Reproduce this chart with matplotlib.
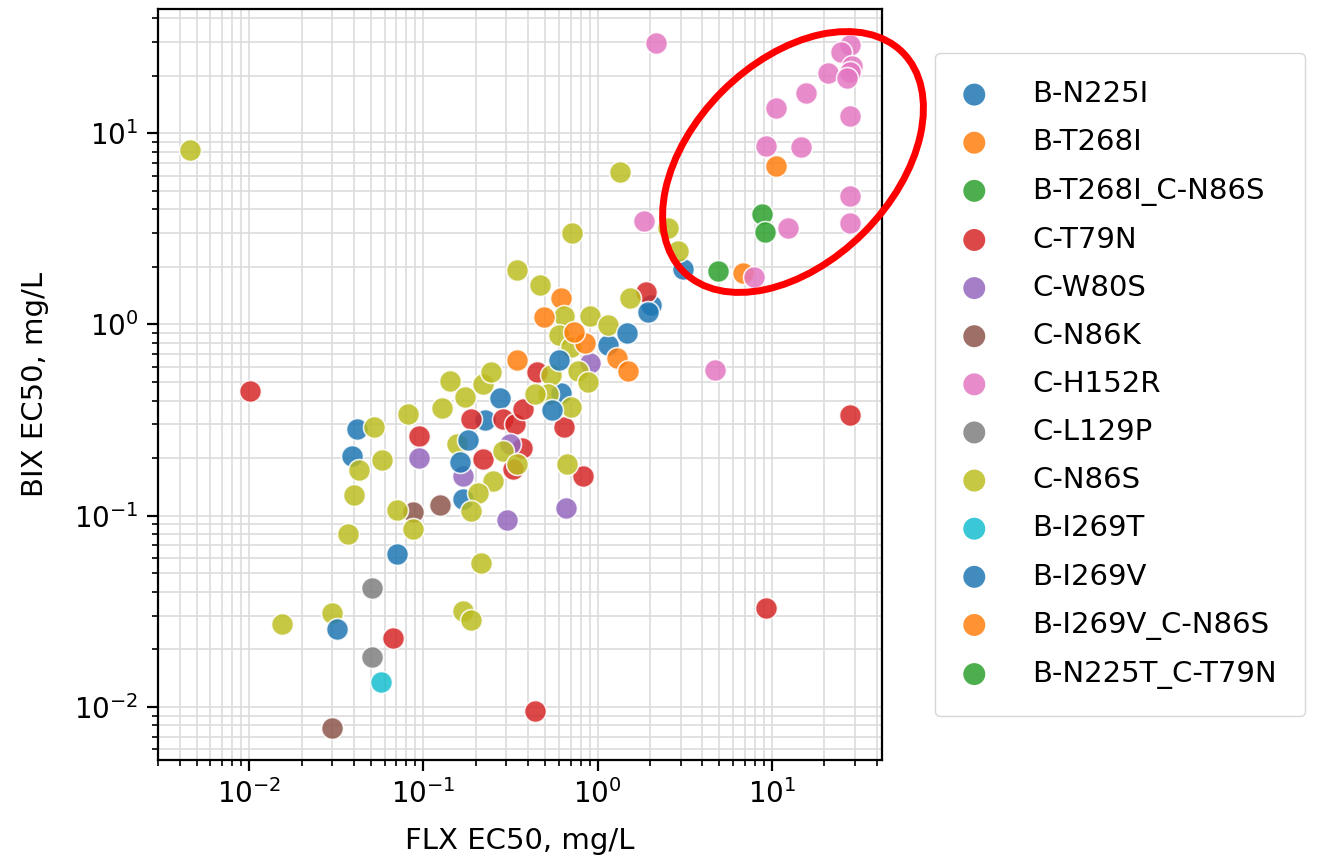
import matplotlib
matplotlib.use("Agg")
import matplotlib.pyplot as plt
from matplotlib.patches import Ellipse
from matplotlib.ticker import LogLocator, NullFormatter

# ---------------- data ----------------
categories = ["B-N225I", "B-T268I", "B-T268I_C-N86S", "C-T79N", "C-W80S", "C-N86K",
              "C-H152R", "C-L129P", "C-N86S", "B-I269T", "B-I269V", "B-I269V_C-N86S",
              "B-N225T_C-T79N"]

flx_B_N225I = [0.0418, 0.039, 0.168, 0.227, 0.277, 0.613, 1.14, 2.02, 3.08]
bix_B_N225I = [0.285, 0.204, 0.122, 0.315, 0.41, 0.44, 0.776, 1.26, 1.96]

flx_B_T268I = [0.347, 0.62, 1.30, 6.8, 10.5]
bix_B_T268I = [0.65, 1.38, 0.664, 1.85, 6.7]

flx_B_T268I_C_N86S = [8.8, 9.1]
bix_B_T268I_C_N86S = [3.77, 3.03]

flx_C_T79N = [0.0101, 0.0673, 0.095, 0.187, 0.221, 0.288, 0.338, 0.375, 0.37, 0.325,
              0.452, 0.64, 0.83, 0.44, 9.3, 28.0, 1.89]
bix_C_T79N = [0.45, 0.023, 0.262, 0.32, 0.199, 0.32, 0.30, 0.36, 0.227, 0.176,
              0.561, 0.29, 0.162, 0.0095, 0.033, 0.338, 1.47]

flx_C_W80S = [0.095, 0.17, 0.316, 0.304, 0.655, 0.91]
bix_C_W80S = [0.201, 0.162, 0.237, 0.095, 0.110, 0.625]

flx_C_N86K = [0.030, 0.125, 0.0877]
bix_C_N86K = [0.0078, 0.114, 0.104]

flx_C_H152R = [2.15, 1.84, 4.7, 7.9, 9.2, 14.7, 10.6, 15.7, 21.0, 28.0, 25.0, 29.0,
               28.0, 27.0, 28.0, 28.0, 28.0, 12.4]
bix_C_H152R = [29.6, 3.46, 0.58, 1.76, 8.55, 8.5, 13.5, 16.2, 20.6, 29.0, 26.5, 22.5,
               20.8, 19.5, 12.3, 4.68, 3.38, 3.18]

flx_C_L129P = [0.051, 0.051]
bix_C_L129P = [0.042, 0.0183]

flx_C_N86S = [0.00458, 1.34, 0.71, 2.52, 2.88, 0.0155, 0.030, 0.037, 0.0877, 0.213,
              0.170, 0.187, 0.0523, 0.0429, 0.058, 0.040, 0.082, 0.1286, 0.143, 0.071,
              0.347, 0.47, 0.64, 0.91, 1.14, 0.60, 0.70, 1.53, 0.537, 0.77,
              0.876, 0.516, 0.70, 0.67, 0.288, 0.347, 0.252, 0.207, 0.187, 0.157,
              0.174, 0.221, 0.243, 0.44]
bix_C_N86S = [8.15, 6.3, 3.0, 3.18, 2.41, 0.0272, 0.031, 0.080, 0.0855, 0.0567,
              0.0318, 0.0285, 0.29, 0.174, 0.196, 0.129, 0.342, 0.367, 0.509, 0.107,
              1.92, 1.6, 1.11, 1.11, 0.99, 0.876, 0.758, 1.38, 0.541, 0.574,
              0.497, 0.435, 0.368, 0.187, 0.219, 0.187, 0.152, 0.132, 0.106, 0.238,
              0.416, 0.491, 0.561, 0.435]

flx_B_I269T = [0.0574]
bix_B_I269T = [0.0135]

flx_B_I269V = [0.032, 0.071, 0.163, 0.18, 0.55, 0.60, 1.47, 1.94]
bix_B_I269V = [0.0256, 0.063, 0.19, 0.25, 0.355, 0.65, 0.897, 1.16]

flx_B_I269V_C_N86S = [0.49, 0.85, 0.728, 1.49]
bix_B_I269V_C_N86S = [1.09, 0.80, 0.91, 0.574]

flx_B_N225T_C_T79N = [4.9]
bix_B_N225T_C_T79N = [1.9]

series = [
    (flx_B_N225I, bix_B_N225I), (flx_B_T268I, bix_B_T268I),
    (flx_B_T268I_C_N86S, bix_B_T268I_C_N86S), (flx_C_T79N, bix_C_T79N),
    (flx_C_W80S, bix_C_W80S), (flx_C_N86K, bix_C_N86K), (flx_C_H152R, bix_C_H152R),
    (flx_C_L129P, bix_C_L129P), (flx_C_N86S, bix_C_N86S), (flx_B_I269T, bix_B_I269T),
    (flx_B_I269V, bix_B_I269V), (flx_B_I269V_C_N86S, bix_B_I269V_C_N86S),
    (flx_B_N225T_C_T79N, bix_B_N225T_C_T79N),
]

tab10 = ["#1f77b4", "#ff7f0e", "#2ca02c", "#d62728", "#9467bd", "#8c564b",
         "#e377c2", "#7f7f7f", "#bcbd22", "#17becf"]

# ---------------- figure ----------------
plt.rcParams["font.family"] = ["DejaVu Sans"]
fig = plt.figure(figsize=(13.23, 8.64), dpi=100)
ax = fig.add_axes([0.1194, 0.1204, 0.5473, 0.8692])

for i, (name, (xs, ys)) in enumerate(zip(categories, series)):
    ax.scatter(xs, ys, s=250, color=tab10[i % 10], edgecolor="white",
               linewidth=1.2, alpha=0.85, label=name, zorder=3)

ax.set_xscale("log")
ax.set_yscale("log")
ax.set_xlim(0.0030, 42.9)
ax.set_ylim(0.00528, 44.6)

ax.xaxis.set_minor_locator(LogLocator(base=10, subs=range(2, 10), numticks=20))
ax.yaxis.set_minor_locator(LogLocator(base=10, subs=range(2, 10), numticks=20))
ax.xaxis.set_minor_formatter(NullFormatter())
ax.yaxis.set_minor_formatter(NullFormatter())

ax.grid(True, which="both", color="#dcdcdc", linewidth=1.2, zorder=0)
ax.set_axisbelow(True)

for sp in ax.spines.values():
    sp.set_linewidth(1.6)
    sp.set_color("black")

ax.tick_params(which="major", length=8, width=1.6, labelsize=20, pad=6, direction="out")
ax.tick_params(which="minor", length=4.5, width=1.2, direction="out")

ax.set_xlabel("FLX EC50, mg/L", fontsize=21, labelpad=13)
ax.set_ylabel("BIX EC50, mg/L", fontsize=21, labelpad=18)

leg = ax.legend(loc="upper left", bbox_to_anchor=(1.073, 0.942), borderaxespad=0,
                fontsize=21, labelspacing=0.69, handlelength=0.8, handletextpad=1.6,
                borderpad=0.95, frameon=True, edgecolor="#cccccc", fancybox=True,
                markerscale=1.0)
for h in leg.legend_handles:
    h.set_edgecolor("none")
    h.set_alpha(0.85)

# red highlight ellipse (drawn in figure inches)
ell = Ellipse((7.93, 8.64 - 1.62), width=3.1, height=2.0, angle=45,
              transform=fig.dpi_scale_trans, fill=False, edgecolor="red",
              linewidth=5, clip_on=False, zorder=10)
fig.add_artist(ell)

fig.savefig("out.png", dpi=100)
